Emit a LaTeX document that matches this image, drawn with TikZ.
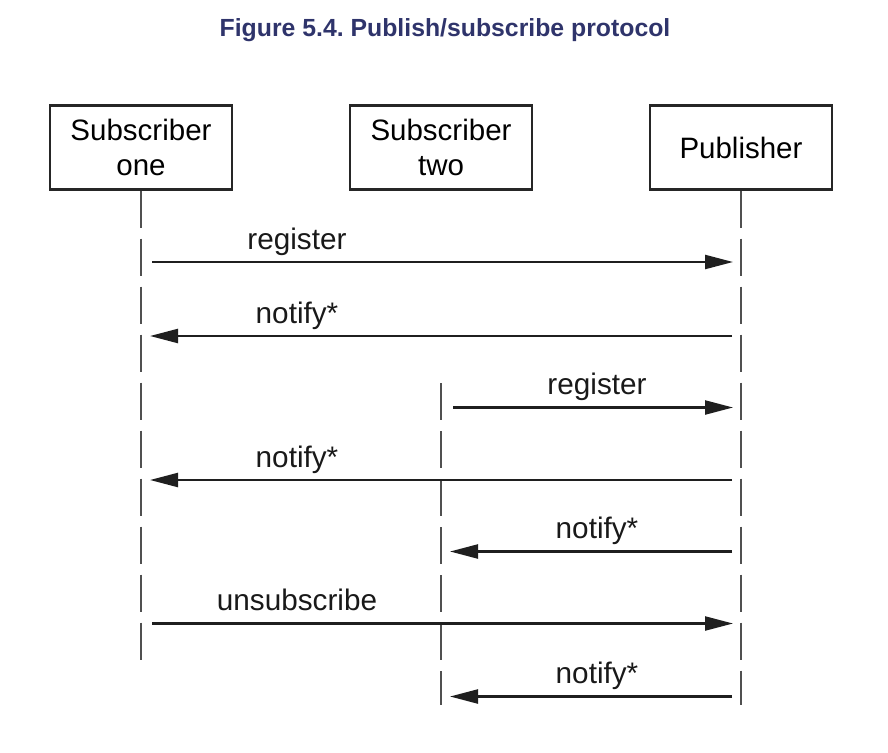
\documentclass[tikz,border=0pt]{standalone}
\usepackage{fontspec}
\setmainfont{Liberation Sans}
\usetikzlibrary{arrows.meta}
\definecolor{titleblue}{RGB}{47,52,107}
\definecolor{lifegray}{RGB}{80,80,80}
\frenchspacing

\begin{document}
\begin{tikzpicture}[x=1pt,y=-1pt,
  actor/.style={draw=black!85,line width=2.2pt,minimum width=182pt,minimum height=84pt,
    align=center,inner sep=0pt,font=\fontsize{29.5}{35}\selectfont},
  life/.style={draw=lifegray,line width=1.6pt,dash pattern=on 37pt off 11pt},
  msg/.style={draw=black!88,line width=2.3pt,-{Triangle[length=28pt,width=14pt]}},
  lbl/.style={anchor=base,font=\fontsize{29.7}{34}\selectfont,text=black!90}]
\useasboundingbox (0,0) rectangle (888,752);
% title
\node[anchor=base,font=\bfseries\fontsize{24.8}{28}\selectfont,text=titleblue] (title) at (445,36.5)
  {Figure 5.4. Publish/subscribe protocol};
% actors
\node[actor] (s1) at (141,147.5) {Subscriber\\one};
\node[actor] (s2) at (441,147.5) {Subscriber\\two};
\node[actor] (pub) at (741,147.5) {Publisher};
% lifelines
\coordinate (s1end) at (141,660);
\coordinate (s2top) at (441,383);
\coordinate (s2end) at (441,705);
\coordinate (pubend) at (741,705);
\draw[life] (s1.south) -- (s1end);
\draw[life] (s2top) -- (s2end);
\draw[life] (pub.south) -- (pubend);
% message levels
\coordinate (m1) at (0,262);
\coordinate (m2) at (0,336);
\coordinate (m3) at (0,407.5);
\coordinate (m4) at (0,480);
\coordinate (m5) at (0,551.5);
\coordinate (m6) at (0,623.5);
\coordinate (m7) at (0,696.5);
% messages
\draw[msg,shorten <=11pt,shorten >=8pt] (s1 |- m1) -- (pub |- m1);
\node[lbl] (l1) at ([xshift=156pt,yshift=13pt]s1 |- m1) {register};
\draw[msg,shorten <=9pt,shorten >=9pt] (pub |- m2) -- (s1 |- m2);
\node[lbl] (l2) at ([xshift=156pt,yshift=13pt]s1 |- m2) {notify*};
\draw[msg,shorten <=12pt,shorten >=8pt] (s2 |- m3) -- (pub |- m3);
\node[lbl] (l3) at ([xshift=156pt,yshift=13pt]s2 |- m3) {register};
\draw[msg,shorten <=9pt,shorten >=9pt] (pub |- m4) -- (s1 |- m4);
\node[lbl] (l4) at ([xshift=156pt,yshift=13pt]s1 |- m4) {notify*};
\draw[msg,shorten <=9pt,shorten >=9pt] (pub |- m5) -- (s2 |- m5);
\node[lbl] (l5) at ([xshift=156pt,yshift=13pt]s2 |- m5) {notify*};
\draw[msg,shorten <=11pt,shorten >=8pt] (s1 |- m6) -- (pub |- m6);
\node[lbl] (l6) at ([xshift=156pt,yshift=13pt]s1 |- m6) {unsubscribe};
\draw[msg,shorten <=9pt,shorten >=9pt] (pub |- m7) -- (s2 |- m7);
\node[lbl] (l7) at ([xshift=156pt,yshift=13pt]s2 |- m7) {notify*};
\end{tikzpicture}
\end{document}
